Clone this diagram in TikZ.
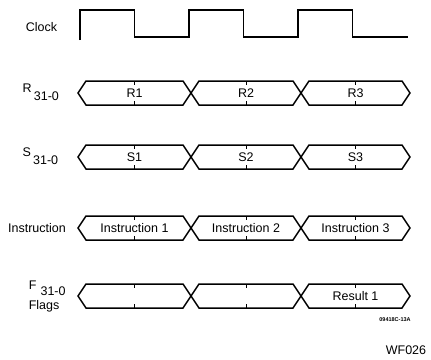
\documentclass[tikz,border=0pt]{standalone}
\usepackage{fontspec}
\setmainfont{Liberation Sans}
\begin{document}
\begin{tikzpicture}[x=1pt,y=-1pt,line width=1.5pt,
    lbl/.style={font=\fontsize{12.5}{14}\selectfont,inner sep=0pt},
    val/.style={font=\fontsize{12.5}{14}\selectfont,inner sep=0pt}]
  \useasboundingbox (0,0) rectangle (431,359);
  % clock
  \draw (80,40) -- (80,10) -- (134.5,10) -- (134.5,37) -- (189,37) -- (189,10)
    -- (243.5,10) -- (243.5,37) -- (298,37) -- (298,10) -- (352.5,10)
    -- (352.5,37) -- (408,37);
  \node[lbl] (clk) at (41.5,27) {Clock};
  % buses
  \foreach \row/\y/\ta/\tb/\tc in {r/93/R1/R2/R3, s/157/S1/S2/S3,
      i/228/Instruction 1/Instruction 2/Instruction 3, f/296///Result 1} {
    \foreach \l/\r/\txt [count=\k] in {78/191/\ta, 191/301/\tb, 301/410/\tc} {
      \draw (\l,\y) -- (\l+8,\y-12) -- (\r-8,\y-12) -- (\r,\y)
        -- (\r-8,\y+12) -- (\l+8,\y+12) -- cycle;
      \draw[line width=0.8pt] ({(\l+\r)/2},\y-12) -- ++(0,4)
        ({(\l+\r)/2},\y+12) -- ++(0,-4);
      \node[val] (\row\k) at ({(\l+\r)/2},\y) {\txt};
    }
  }
  % row labels
  \node[lbl,anchor=base west] (rlab) at (22,100.5) {\raisebox{8pt}{R}\,31-0};
  \node[lbl,anchor=base west] (slab) at (22,164.5) {\raisebox{8pt}{S}\,31-0};
  \node[lbl] (ilab) at (37,228) {Instruction};
  \node[lbl,anchor=base west] (flab) at (28,295.5) {\raisebox{6pt}{F}\,\,31-0};
  \node[lbl,anchor=base west] (flags) at (28,309.5) {Flags};
  % figure codes
  \node[font=\fontsize{5.5}{6}\selectfont\bfseries,inner sep=0pt] (code) at (395,320) {09418C-13A};
  \node[lbl] (wf) at (406,350) {WF026};
\end{tikzpicture}
\end{document}
